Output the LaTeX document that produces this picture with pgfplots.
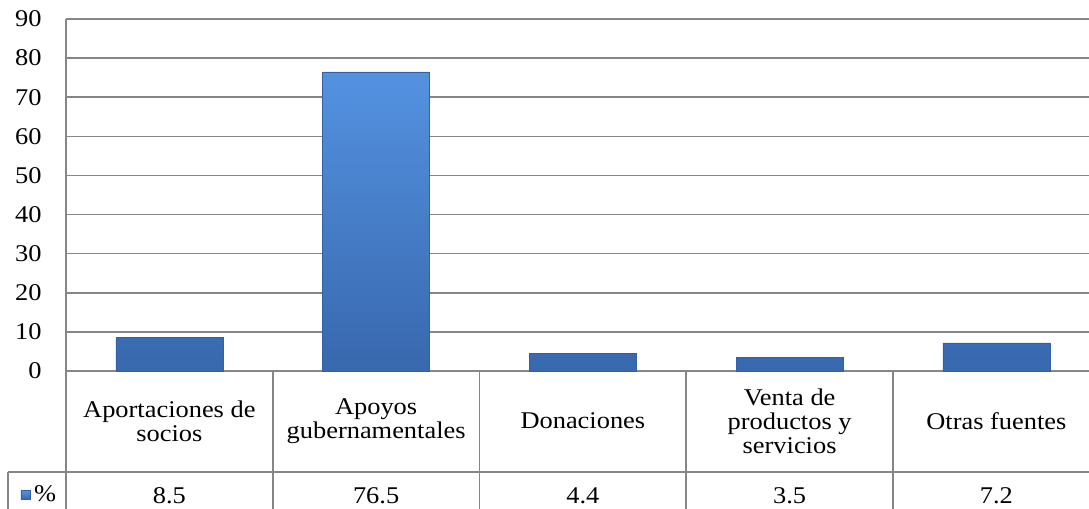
\documentclass[border=0pt]{standalone}
\usepackage{fontspec}
\setmainfont{Liberation Serif}[FakeStretch=1.1]
\usepackage{pgfplots}
\pgfplotsset{compat=1.18}

\definecolor{gridc}{RGB}{134,134,134}
\definecolor{bartop}{RGB}{84,146,224}
\definecolor{barmid}{RGB}{70,130,210}
\definecolor{barbot}{RGB}{56,104,174}
\definecolor{baredge}{RGB}{50,96,160}

\begin{document}
\fontsize{12pt}{12pt}\selectfont
\begin{tikzpicture}
\begin{axis}[
    scale only axis,
    width=511.5pt, height=176pt,
    xmin=-0.5, xmax=4.448,
    ymin=0, ymax=90,
    ytick={0,10,...,90},
    xtick={0,1,2,3,4},
    xticklabels={Aportaciones de\\socios, Apoyos\\gubernamentales, Donaciones, Venta de\\productos y\\servicios, Otras fuentes},
    xticklabel style={anchor=center, align=center, yshift=-25pt},
    yticklabel style={anchor=east, inner sep=0pt, xshift=-12pt},
    ticklabel style={font=\fontsize{12pt}{12pt}\selectfont},
    /pgf/number format/assume math mode=true,
    major tick length=0pt,
    axis line style={draw=none},
    ymajorgrids,
    grid style={gridc, line width=0.8pt},
    ybar, bar width=53.5pt,
    clip=false,
    legend style={at={(axis description cs:-0.025,-0.352)}, anchor=center,
        draw=none, fill=none, inner sep=0pt,
        font=\fontsize{12pt}{12pt}\selectfont},
    legend image code/.code={
        \fill[top color=bartop, bottom color=barbot] (-2.5pt,-2.25pt) rectangle (2pt,2.25pt);
    },
]
\addplot[top color=bartop, middle color=barmid, bottom color=barbot, draw=baredge, line width=0.3pt] coordinates {
    (0, 8.5) (1, 76.5) (2, 4.4) (3, 3.5) (4, 7.2)
};
\addlegendentry{\%}

\coordinate (llc) at (rel axis cs:0,0);
\coordinate (urc) at (rel axis cs:1,1);

% data table grid
\draw[gridc, line width=0.8pt] (axis cs:-0.5,90) -- ([yshift=-80pt]axis cs:-0.5,0);
\draw[gridc, line width=0.8pt] (axis cs:0.5,0) -- ([yshift=-80pt]axis cs:0.5,0);
\draw[gridc, line width=0.8pt] (axis cs:1.5,0) -- ([yshift=-80pt]axis cs:1.5,0);
\draw[gridc, line width=0.8pt] (axis cs:2.5,0) -- ([yshift=-80pt]axis cs:2.5,0);
\draw[gridc, line width=0.8pt] (axis cs:3.5,0) -- ([yshift=-80pt]axis cs:3.5,0);
\draw[gridc, line width=0.8pt] ([xshift=-29pt,yshift=-50.5pt]axis cs:-0.5,0) -- ([yshift=-50.5pt]axis cs:4.448,0);
\draw[gridc, line width=0.8pt] ([xshift=-29pt,yshift=-50.5pt]axis cs:-0.5,0) -- ([xshift=-29pt,yshift=-80pt]axis cs:-0.5,0);

% values row
\node[anchor=base] at ([yshift=-66.5pt]axis cs:0,0) {8.5};
\node[anchor=base] at ([yshift=-66.5pt]axis cs:1,0) {76.5};
\node[anchor=base] at ([yshift=-66.5pt]axis cs:2,0) {4.4};
\node[anchor=base] at ([yshift=-66.5pt]axis cs:3,0) {3.5};
\node[anchor=base] at ([yshift=-66.5pt]axis cs:4,0) {7.2};
\end{axis}
\pgfresetboundingbox
\path ([xshift=-33pt,yshift=-69pt]llc) rectangle ([yshift=9.5pt]urc);
\end{tikzpicture}
\end{document}
